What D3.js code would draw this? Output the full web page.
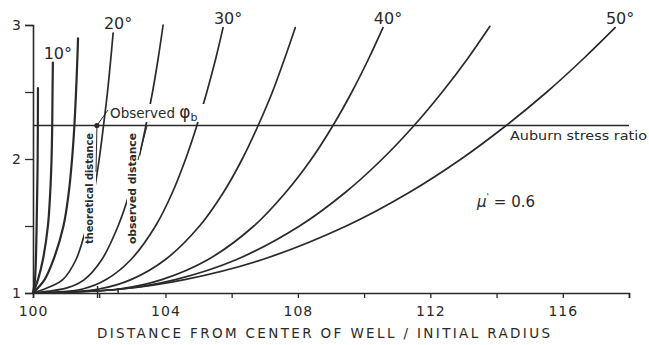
<!DOCTYPE html>
<html>
<head>
<meta charset="utf-8">
<script src="https://cdn.jsdelivr.net/npm/d3@7"></script>
<style>
  html, body { margin: 0; padding: 0; background: #ffffff; }
  svg { display: block; }
  text { font-family: "DejaVu Sans", "Liberation Sans", sans-serif; fill: #2a2a2a; }
</style>
</head>
<body>
<svg id="chart" width="649" height="345"></svg>
<script>
// ---------- data ----------
const xTickValues = [100, 102, 104, 106, 108, 110, 112, 114, 116, 118];
const xTickLabels = [100, 104, 108, 112, 116];
const yTickValues = [1, 1.5, 2, 2.5, 3];
const yTickLabels = [1, 2, 3];

const angleLabels = ["5°", "10°", "15°", "20°", "25°", "30°", "35°", "40°", "45°", "50°"];
const shownAngleLabels = ["10°", "20°", "30°", "40°", "50°"];

// each curve: [distance / initial radius, stress ratio]
const curve05 = [[100,1],[100.06,1.1],[100.11,1.5],[100.14,2.0],[100.15,2.53]];
const curve10 = [[100,1],[100.15,1.1],[100.30,1.25],[100.45,1.5],[100.52,1.75],[100.56,2.0],[100.58,2.25],[100.59,2.5],[100.60,2.72]];
const curve15 = [[100,1],[100.35,1.1],[100.62,1.25],[100.92,1.5],[101.08,1.75],[101.18,2.0],[101.25,2.25],[101.30,2.5],[101.34,2.75],[101.36,2.90]];
const curve20 = [[100,1],[100.55,1.05],[100.90,1.1],[101.30,1.25],[101.62,1.5],[101.84,1.75],[102.00,2.0],[102.13,2.25],[102.25,2.5],[102.35,2.75],[102.42,2.94]];
const curve25 = [[100,1],[101.05,1.04],[101.55,1.1],[102.08,1.25],[102.57,1.5],[102.92,1.75],[103.19,2.0],[103.41,2.25],[103.61,2.5],[103.78,2.75],[103.93,3.0]];
const curve30 = [[100,1],[101.50,1.03],[102.21,1.1],[102.96,1.25],[103.70,1.5],[104.21,1.75],[104.61,2.0],[104.95,2.25],[105.25,2.5],[105.52,2.75],[105.74,2.98]];
const curve35 = [[100,1],[101.99,1.03],[102.96,1.1],[104.00,1.25],[105.03,1.5],[105.75,1.75],[106.32,2.0],[106.80,2.25],[107.23,2.5],[107.60,2.75],[107.92,2.98]];
const curve40 = [[100,1],[102.60,1.03],[103.89,1.1],[105.29,1.25],[106.67,1.5],[107.63,1.75],[108.41,2.0],[109.06,2.25],[109.63,2.5],[110.14,2.75],[110.57,2.98]];
const curve45 = [[100,1],[102.69,1.03],[104.30,1.1],[106.15,1.25],[108.05,1.5],[109.43,1.75],[110.55,2.0],[111.51,2.25],[112.36,2.5],[113.13,2.75],[113.80,2.99]];
const curve50 = [[100,1],[102.67,1.03],[104.58,1.1],[106.93,1.25],[109.46,1.5],[111.36,1.75],[112.93,2.0],[114.29,2.25],[115.52,2.5],[116.63,2.75],[117.58,2.98]];
const curves = [curve05, curve10, curve15, curve20, curve25, curve30, curve35, curve40, curve45, curve50];

const auburnRatio = [2.25];
const observedPhiB = [[101.93, 2.25]];
const distanceMarks = [101.95, 102.57];   // theoretical, observed
const muValue = ["0.6"];

// ---------- layout ----------
const svg = d3.select("#chart");
const x = d3.scaleLinear().domain([100, 118]).range([33, 629]);
const y = d3.scaleLinear().domain([1, 3]).range([293, 25]);
const ink = "#2a2a2a";

// axes
const xAxis = d3.axisBottom(x).tickValues(xTickValues).tickSize(5)
  .tickFormat(d => xTickLabels.includes(d) ? d : "");
const gx = svg.append("g").attr("transform", `translate(0,${y(1)})`).call(xAxis);
gx.select(".domain").attr("stroke", ink).attr("stroke-width", 1.6);
gx.selectAll(".tick line").attr("stroke", ink).attr("stroke-width", 1.3);
gx.selectAll(".tick text").attr("font-size", 14).attr("dy", "1.05em")
  .attr("letter-spacing", "1px").style("fill", ink);

const yAxis = d3.axisLeft(y).tickValues(yTickValues).tickSize(8)
  .tickFormat(d => yTickLabels.includes(d) ? d : "");
const gy = svg.append("g").attr("transform", `translate(${x(100)},0)`).call(yAxis);
gy.select(".domain").attr("stroke", ink).attr("stroke-width", 1.6);
gy.selectAll(".tick line").attr("stroke", ink).attr("stroke-width", 1.3);
gy.selectAll(".tick text").attr("font-size", 14).attr("x", -12).style("fill", ink);
svg.selectAll(".domain").attr("fill", "none");

// x axis title
svg.append("text").attr("x", 97).attr("y", 338)
  .attr("font-size", 13.5).attr("textLength", 453).attr("lengthAdjust", "spacing")
  .text("DISTANCE FROM CENTER OF WELL / INITIAL RADIUS");

// Auburn stress ratio line
svg.append("line")
  .attr("x1", x(100)).attr("x2", x(118))
  .attr("y1", y(auburnRatio[0])).attr("y2", y(auburnRatio[0]))
  .attr("stroke", ink).attr("stroke-width", 1.5);
svg.append("text").attr("x", 510).attr("y", y(auburnRatio[0]) + 14)
  .attr("font-size", 12.5).attr("textLength", 137).attr("lengthAdjust", "spacingAndGlyphs")
  .text("Auburn stress ratio");

// curves
const line = d3.line().x(d => x(d[0])).y(d => y(d[1])).curve(d3.curveCatmullRom.alpha(0.5));
svg.append("g").selectAll("path").data(curves).join("path")
  .attr("d", line).attr("fill", "none").attr("stroke", ink)
  .attr("stroke-width", (d, i) => i < 3 ? 2.2 : 1.7).attr("stroke-linecap", "round");

// white knockouts behind annotation texts (as in the original drawing)
const knockouts = [[84, 130, 12, 117], [127, 130, 13, 117], [107, 104, 98, 18]];
svg.append("g").selectAll("rect").data(knockouts).join("rect")
  .attr("x", d => d[0]).attr("y", d => d[1]).attr("width", d => d[2]).attr("height", d => d[3])
  .attr("fill", "#ffffff");

// angle labels at curve tops
svg.append("g").selectAll("text")
  .data(curves.map((c, i) => ({c, label: angleLabels[i]})).filter(d => shownAngleLabels.includes(d.label)))
  .join("text")
  .attr("x", d => x(d.c[d.c.length - 1][0]) + 5)
  .attr("y", d => y(d.c[d.c.length - 1][1]) - 4)
  .attr("text-anchor", "middle").attr("font-size", 16)
  .text(d => d.label);

// observed phi_b dot and labels
svg.append("g").selectAll("circle").data(observedPhiB).join("circle")
  .attr("cx", d => x(d[0])).attr("cy", d => y(d[1])).attr("r", 2.6).attr("fill", ink);

const obs = svg.append("text").attr("x", 110).attr("y", 118).attr("font-size", 13.5);
obs.append("tspan").text("Observed ");
obs.append("tspan").attr("font-size", 17).text("φ");
obs.append("tspan").attr("font-size", 11).attr("dy", 3).text("b");

// leaders
const leaders = [
  [[108, 110], [x(observedPhiB[0][0]), y(observedPhiB[0][1])]],
  [[x(observedPhiB[0][0]), y(observedPhiB[0][1]) + 2], [96, 172]],
  [[147, 126], [138, 160]]
];
svg.append("g").selectAll("line").data(leaders).join("line")
  .attr("x1", d => d[0][0]).attr("y1", d => d[0][1])
  .attr("x2", d => d[1][0]).attr("y2", d => d[1][1])
  .attr("stroke", ink).attr("stroke-width", 1);

// vertical annotations
svg.append("text").attr("transform", "translate(93,244) rotate(-90)")
  .attr("font-size", 10.5).attr("font-weight", "bold").attr("textLength", 111).attr("lengthAdjust", "spacingAndGlyphs")
  .text("theoretical distance");
svg.append("text").attr("transform", "translate(136,244) rotate(-90)")
  .attr("font-size", 11).attr("font-weight", "bold").attr("textLength", 111).attr("lengthAdjust", "spacingAndGlyphs")
  .text("observed distance");

// distance markers on x axis
svg.append("g").selectAll("line").data(distanceMarks).join("line")
  .attr("x1", d => x(d)).attr("x2", d => x(d))
  .attr("y1", (d, i) => y(1) - (i === 0 ? 7 : 5)).attr("y2", (d, i) => y(1) + (i === 0 ? 5 : 0))
  .attr("stroke", ink).attr("stroke-width", 1.5);

// mu' = 0.6
const mu = svg.append("text").attr("x", 477).attr("y", 207).attr("font-size", 15);
mu.append("tspan").attr("font-style", "italic").text("μ");
mu.append("tspan").attr("font-size", 9).attr("dy", -7).text("'");
mu.append("tspan").attr("dy", 7).text(" = " + muValue[0]);
</script>
</body>
</html>
